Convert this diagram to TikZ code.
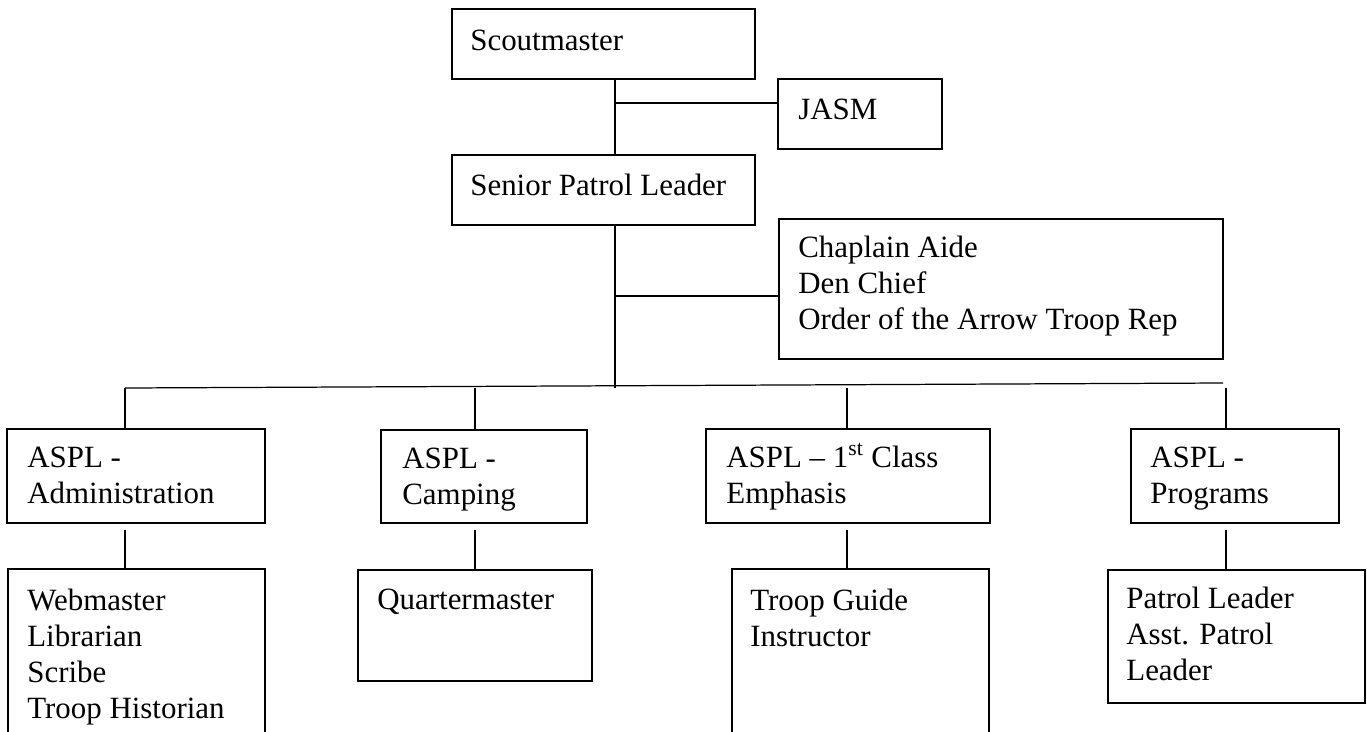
\documentclass[tikz,border=0pt]{standalone}
\usepackage{fontspec}
\setmainfont{Liberation Serif}
\usetikzlibrary{fit}
\newcommand{\stacklines}[1]{\begin{tabular}[t]{@{}l@{}}#1\end{tabular}}
\begin{document}
\begin{tikzpicture}[x=0.02cm,y=-0.02cm,
  box/.style={draw, line width=0.8pt, rectangle, inner sep=0pt},
  lbl/.style={anchor=base west, inner sep=0pt, font=\fontsize{17.6}{20.5}\selectfont},
  link/.style={line width=0.7pt}]
\clip (0,0) rectangle (1367,731);
% boxes
\node[box, fit={(452,9) (755,79)}] (sm) {};
\node[box, fit={(778,79) (942,149)}] (jasm) {};
\node[box, fit={(452,155) (755,225)}] (spl) {};
\node[box, fit={(779,219) (1223,359)}] (chap) {};
\node[box, fit={(7,429) (265,523)}] (adm) {};
\node[box, fit={(381,430) (587,523)}] (camp) {};
\node[box, fit={(706,429) (990,523)}] (fc) {};
\node[box, fit={(1131,429) (1339,523)}] (prog) {};
\node[box, fit={(8,569) (265,780)}] (web) {};
\node[box, fit={(358,570) (592,681)}] (qm) {};
\node[box, fit={(732,569) (989,780)}] (tg) {};
\node[box, fit={(1108,570) (1365,703)}] (pl) {};
% texts
\node[lbl] (smt) at (470,50) {Scoutmaster};
\node[lbl] (jasmt) at (798,119) {JASM};
\node[lbl] (splt) at (470,195) {Senior Patrol Leader};
\node[lbl] (chapt) at (798,257) {\stacklines{Chaplain Aide\\Den Chief\\Order of the Arrow Troop Rep}};
\node[lbl] (admt) at (27,467) {\stacklines{ASPL -\\Administration}};
\node[lbl] (campt) at (402,468) {\stacklines{ASPL -\\Camping}};
\node[lbl] (fct) at (726,467) {\stacklines{ASPL -- 1\textsuperscript{st} Class\\Emphasis}};
\node[lbl] (progt) at (1150,467) {\stacklines{ASPL -\\Programs}};
\node[lbl] (webt) at (27,610) {\stacklines{Webmaster\\Librarian\\Scribe\\Troop Historian}};
\node[lbl] (qmt) at (377,609) {Quartermaster};
\node[lbl] (tgt) at (750,610) {\stacklines{Troop Guide\\Instructor}};
\node[lbl] (plt) at (1126,608) {\stacklines{Patrol Leader\\Asst. Patrol\\Leader}};
% junction coordinates
\coordinate (j1) at (615,103);
\coordinate (j2) at (615,296);
\coordinate (jb) at (615,388);
\coordinate (hl) at (125,388);
\coordinate (hr) at (1223,383);
\coordinate (c1) at (125,388);
\coordinate (c2) at (475,388);
\coordinate (c3) at (847,388);
\coordinate (c4) at (1226,388);
% connectors
\draw[link] (sm.south -| j1) -- (spl.north -| j1);
\draw[link] (j1) -- (jasm.west |- j1);
\draw[link] (spl.south -| j2) -- (jb);
\draw[link] (j2) -- (chap.west |- j2);
\draw[link] (hl) -- (hr);
\draw[link] (c1) -- (adm.north -| c1);
\draw[link] (c2) -- (camp.north -| c2);
\draw[link] (c3) -- (fc.north -| c3);
\draw[link] (c4) -- (prog.north -| c4);
\draw[link] ([yshift=-0.12cm]adm.south -| c1) -- (web.north -| c1);
\draw[link] ([yshift=-0.12cm]camp.south -| c2) -- (qm.north -| c2);
\draw[link] ([yshift=-0.12cm]fc.south -| c3) -- (tg.north -| c3);
\draw[link] ([yshift=-0.12cm]prog.south -| c4) -- (pl.north -| c4);
\end{tikzpicture}
\end{document}
